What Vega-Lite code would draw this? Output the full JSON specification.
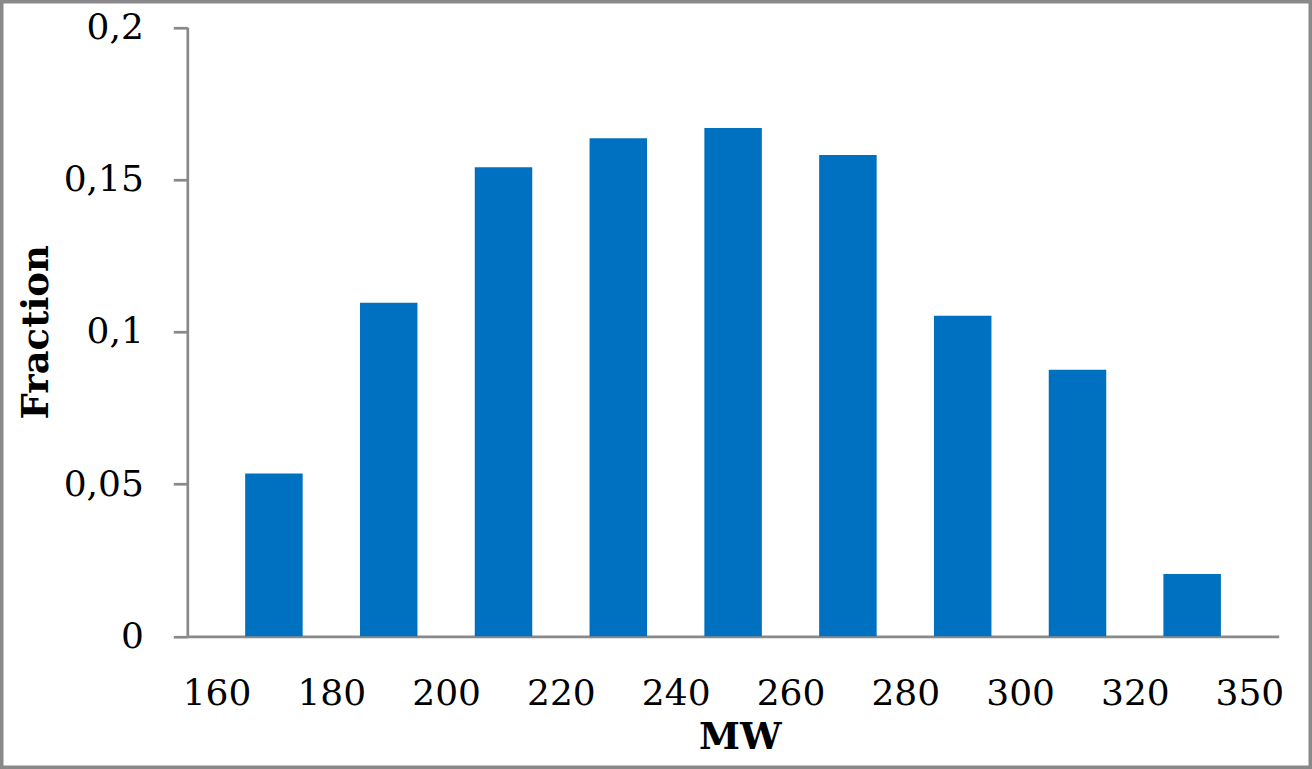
{
  "$schema": "https://vega.github.io/schema/vega-lite/v6.json",
  "autosize": {"type": "none"},
  "padding": {"left": 1.75, "top": 1.75, "right": 1.75, "bottom": 1.75},
  "width": 1308.5,
  "height": 765.5,
  "background": "white",
  "config": {
    "view": {"stroke": "#898989", "strokeWidth": 3.5, "fill": "white"},
    "axis": {
      "labelFont": "DejaVu Serif",
      "labelFontSize": 36,
      "labelColor": "black",
      "titleFont": "DejaVu Serif",
      "titleFontSize": 37,
      "titleFontWeight": "bold",
      "titleColor": "black",
      "domainColor": "#898989",
      "domainWidth": 2.7,
      "tickColor": "#898989",
      "tickWidth": 2.7,
      "grid": false
    }
  },
  "data": {
    "values": [
      {"bin": "160-180", "lo": 160, "hi": 180, "mid": 170, "fraction": 0.0535},
      {"bin": "180-200", "lo": 180, "hi": 200, "mid": 190, "fraction": 0.1095},
      {"bin": "200-220", "lo": 200, "hi": 220, "mid": 210, "fraction": 0.154},
      {"bin": "220-240", "lo": 220, "hi": 240, "mid": 230, "fraction": 0.1636},
      {"bin": "240-260", "lo": 240, "hi": 260, "mid": 250, "fraction": 0.1669},
      {"bin": "260-280", "lo": 260, "hi": 280, "mid": 270, "fraction": 0.1581},
      {"bin": "280-300", "lo": 280, "hi": 300, "mid": 290, "fraction": 0.1053},
      {"bin": "300-320", "lo": 300, "hi": 320, "mid": 310, "fraction": 0.0875},
      {"bin": "320-350", "lo": 320, "hi": 350, "mid": 335, "fraction": 0.0205}
    ]
  },
  "mark": {"type": "bar", "width": 57.5, "color": "#0070C0"},
  "encoding": {
    "x": {
      "field": "mid",
      "type": "quantitative",
      "title": "MW",
      "scale": {"type": "linear", "domain": [154.91, 320, 357.68], "range": [185.55, 1133.15, 1276.95], "nice": false, "zero": false, "padding": 0},
      "axis": {
        "values": [160, 180, 200, 220, 240, 260, 280, 300, 320, 350],
        "format": "d",
        "offset": -130.95,
        "ticks": false,
        "tickSize": 0,
        "labelPadding": 40,
        "labelFlush": false,
        "labelOverlap": false,
        "titleX": 738,
        "titleY": 101,
        "titleBaseline": "middle"
      }
    },
    "y": {
      "field": "fraction",
      "type": "quantitative",
      "title": "Fraction",
      "scale": {"domain": [0, 0.2], "range": [634.55, 25.55], "nice": false, "padding": 0},
      "axis": {
        "values": [0, 0.05, 0.1, 0.15, 0.2],
        "format": "~g",
        "labelExpr": "replace(datum.label, '.', ',')",
        "offset": -185.55,
        "tickSize": 14,
        "labelPadding": 30,
        "labelFlush": false,
        "labelOverlap": false,
        "titleX": -150.6,
        "titleBaseline": "middle"
      }
    }
  }
}
